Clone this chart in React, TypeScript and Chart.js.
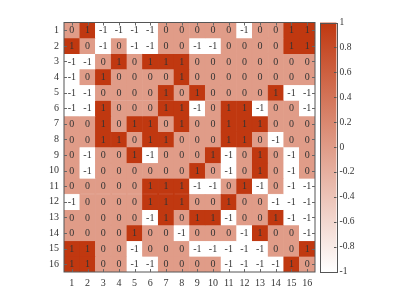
import React, { useEffect, useRef } from "react";
import { Chart, registerables } from "chart.js";

Chart.register(...registerables);

const colLabels = ["1","2","3","4","5","6","7","8","9","10","11","12","13","14","15","16"];
const rowLabels = ["1","2","3","4","5","6","7","8","9","10","11","12","13","14","15","16"];
const cellValues: number[][] = [
  [0, 1, -1, -1, -1, -1, 0, 0, 0, 0, 0, -1, 0, 0, 1, 1],
  [1, 0, -1, 0, -1, -1, 0, 0, -1, -1, 0, 0, 0, 0, 1, 1],
  [-1, -1, 0, 1, 0, 1, 1, 1, 0, 0, 0, 0, 0, 0, 0, 0],
  [-1, 0, 1, 0, 0, 0, 0, 1, 0, 0, 0, 0, 0, 0, 0, 0],
  [-1, -1, 0, 0, 0, 0, 1, 0, 1, 0, 0, 0, 0, 1, -1, -1],
  [-1, -1, 1, 0, 0, 0, 1, 1, -1, 0, 1, 1, -1, 0, 0, -1],
  [0, 0, 1, 0, 1, 1, 0, 1, 0, 0, 1, 1, 1, 0, 0, 0],
  [0, 0, 1, 1, 0, 1, 1, 0, 0, 0, 1, 1, 0, -1, 0, 0],
  [0, -1, 0, 0, 1, -1, 0, 0, 0, 1, -1, 0, 1, 0, -1, 0],
  [0, -1, 0, 0, 0, 0, 0, 0, 1, 0, -1, 0, 1, 0, -1, 0],
  [0, 0, 0, 0, 0, 1, 1, 1, -1, -1, 0, 1, -1, 0, -1, -1],
  [-1, 0, 0, 0, 0, 1, 1, 1, 0, 0, 1, 0, 0, -1, -1, -1],
  [0, 0, 0, 0, 0, -1, 1, 0, 1, 1, -1, 0, 0, 1, -1, -1],
  [0, 0, 0, 0, 1, 0, 0, -1, 0, 0, 0, -1, 1, 0, 0, -1],
  [1, 1, 0, 0, -1, 0, 0, 0, -1, -1, -1, -1, -1, 0, 0, 1],
  [1, 1, 0, 0, -1, -1, 0, 0, 0, 0, -1, -1, -1, -1, 1, 0],
];
const colorbarTicks = [-1, -0.8, -0.6, -0.4, -0.2, 0, 0.2, 0.4, 0.6, 0.8, 1];
const colorMin = -1;
const colorMax = 1;

const LOW = [255, 255, 255];
const HIGH = [192, 56, 16];
const FONT = "'Liberation Serif', 'DejaVu Serif', serif";
const TEXT = "#333333";
const FRAME = "#555555";

function colorFor(v: number): string {
  const t = (v - colorMin) / (colorMax - colorMin);
  const c = LOW.map((l, i) => Math.round(l + (HIGH[i] - l) * t));
  return `rgb(${c[0]},${c[1]},${c[2]})`;
}

const W = 407;
const H = 305;
const PLOT_L = 64;
const PLOT_R = 315;
const PLOT_T = 22.5;
const PLOT_B = 272;
const CB_LEFT = 300;
const CB_W = W - CB_LEFT;
const BAR_L = 320;
const BAR_R = 336.5;
const BAR_B = 271.5;

export default function App() {
  const mainRef = useRef<HTMLCanvasElement>(null);
  const cbRef = useRef<HTMLCanvasElement>(null);

  useEffect(() => {
    const rowNums = rowLabels.map((_, i) => i + 1);

    const datasets = cellValues.map((row, ri) => ({
      label: rowLabels[ri],
      data: row.map(() => [rowNums[ri] - 0.5, rowNums[ri] + 0.5]),
      backgroundColor: row.map((v) => colorFor(v)),
      borderColor: row.map((v) => colorFor(v)),
      borderWidth: 0.5,
      borderSkipped: false,
      grouped: false,
      barPercentage: 1,
      categoryPercentage: 1,
    }));

    const heatPlugin = {
      id: "heatText",
      afterDatasetsDraw(chart: any) {
        const { ctx, scales } = chart;
        const xs = scales.x;
        const ys = scales.y;
        ctx.save();
        ctx.font = `10px ${FONT}`;
        ctx.fillStyle = TEXT;
        ctx.textAlign = "center";
        ctx.textBaseline = "middle";
        cellValues.forEach((row, ri) => {
          row.forEach((v, ci) => {
            const x = xs.getPixelForValue(ci);
            const y = ys.getPixelForValue(rowNums[ri]);
            ctx.fillText(String(v), x, y + 0.5);
          });
        });
        // frame and inward ticks
        const a = chart.chartArea;
        ctx.strokeStyle = FRAME;
        ctx.lineWidth = 1;
        ctx.strokeRect(a.left, a.top, a.right - a.left, a.bottom - a.top);
        ctx.strokeStyle = "#666666";
        ctx.beginPath();
        const tl = 3;
        colLabels.forEach((_, ci) => {
          const x = Math.round(xs.getPixelForValue(ci)) + 0.5;
          ctx.moveTo(x, a.bottom);
          ctx.lineTo(x, a.bottom - tl);
          ctx.moveTo(x, a.top);
          ctx.lineTo(x, a.top + tl);
        });
        rowNums.forEach((r) => {
          const y = Math.round(ys.getPixelForValue(r)) + 0.5;
          ctx.moveTo(a.left, y);
          ctx.lineTo(a.left + tl, y);
          ctx.moveTo(a.right, y);
          ctx.lineTo(a.right - tl, y);
        });
        ctx.stroke();
        ctx.restore();
      },
    };

    const main = new Chart(mainRef.current!, {
      type: "bar",
      data: { labels: colLabels, datasets: datasets as any },
      options: {
        animation: false,
        responsive: false,
        maintainAspectRatio: false,
        layout: { padding: { left: 0, top: PLOT_T, right: W - PLOT_R, bottom: 0 } },
        plugins: { legend: { display: false }, tooltip: { enabled: false } },
        scales: {
          x: {
            type: "category",
            offset: true,
            grid: { display: false, drawTicks: false },
            border: { display: false },
            ticks: { font: { family: FONT, size: 10 }, color: TEXT, padding: 5, maxRotation: 0, autoSkip: false },
            afterFit: (s: any) => { s.height = H - PLOT_B; },
          },
          y: {
            type: "linear",
            reverse: true,
            min: 0.5,
            max: rowLabels.length + 0.5,
            grid: { display: false, drawTicks: false },
            border: { display: false },
            afterBuildTicks: (s: any) => { s.ticks = rowNums.map((v) => ({ value: v })); },
            ticks: {
              font: { family: FONT, size: 10 },
              color: TEXT,
              padding: 5,
              autoSkip: false,
              callback: (v: any) => rowLabels[Number(v) - 1] ?? "",
            },
            afterFit: (s: any) => { s.width = PLOT_L; },
          },
        },
      },
      plugins: [heatPlugin],
    });

    const cbPlugin = {
      id: "cbFrame",
      afterDatasetsDraw(chart: any) {
        const { ctx, scales } = chart;
        const ys = scales.y;
        const xs = scales.x;
        const meta = chart.getDatasetMeta(0);
        const bar = meta.data[0];
        const left = bar.x - bar.width / 2;
        const right = bar.x + bar.width / 2;
        ctx.save();
        ctx.strokeStyle = FRAME;
        ctx.lineWidth = 1;
        ctx.beginPath();
        colorbarTicks.forEach((t) => {
          const y = Math.round(ys.getPixelForValue(t)) + 0.5;
          ctx.moveTo(right, y);
          ctx.lineTo(right - 2.5, y);
        });
        ctx.stroke();
        ctx.strokeRect(Math.round(left) + 0.5, Math.round(ys.getPixelForValue(colorMax)) + 0.5,
          Math.round(right - left), Math.round(ys.getPixelForValue(colorMin) - ys.getPixelForValue(colorMax)));
        ctx.restore();
        void xs;
      },
    };

    const cb = new Chart(cbRef.current!, {
      type: "bar",
      data: {
        labels: ["cb"],
        datasets: [
          {
            data: [[colorMin, colorMax]] as any,
            backgroundColor: (c: any) => {
              const { chart } = c;
              const area = chart.chartArea;
              if (!area) return colorFor(0);
              const g = chart.ctx.createLinearGradient(0, area.bottom, 0, area.top);
              g.addColorStop(0, colorFor(colorMin));
              g.addColorStop(1, colorFor(colorMax));
              return g;
            },
            borderWidth: 0,
            barPercentage: 1,
            categoryPercentage: 1,
          },
        ],
      },
      options: {
        animation: false,
        responsive: false,
        maintainAspectRatio: false,
        layout: { padding: { left: BAR_L - CB_LEFT, top: PLOT_T, right: CB_W - (BAR_R - CB_LEFT) - 45, bottom: H - BAR_B } },
        plugins: { legend: { display: false }, tooltip: { enabled: false } },
        scales: {
          x: { display: false, offset: true },
          y: {
            position: "right",
            min: colorMin,
            max: colorMax,
            grid: { display: false, drawTicks: false },
            border: { display: false },
            afterBuildTicks: (s: any) => { s.ticks = colorbarTicks.map((v) => ({ value: v })); },
            ticks: {
              font: { family: FONT, size: 9.5 },
              color: TEXT,
              padding: 3,
              autoSkip: false,
              callback: (v: any) => String(Number(Number(v).toFixed(1))),
            },
            afterFit: (s: any) => { s.width = 45; },
          },
        },
      },
      plugins: [cbPlugin],
    });

    return () => {
      main.destroy();
      cb.destroy();
    };
  }, []);

  return (
    <div style={{ position: "fixed", left: 0, top: 0, width: W, height: H, background: "#fff" }}>
      <canvas ref={mainRef} width={W} height={H} style={{ position: "absolute", left: 0, top: 0, width: W, height: H }} />
      <canvas ref={cbRef} width={CB_W} height={H} style={{ position: "absolute", left: CB_LEFT, top: 0, width: CB_W, height: H }} />
    </div>
  );
}
